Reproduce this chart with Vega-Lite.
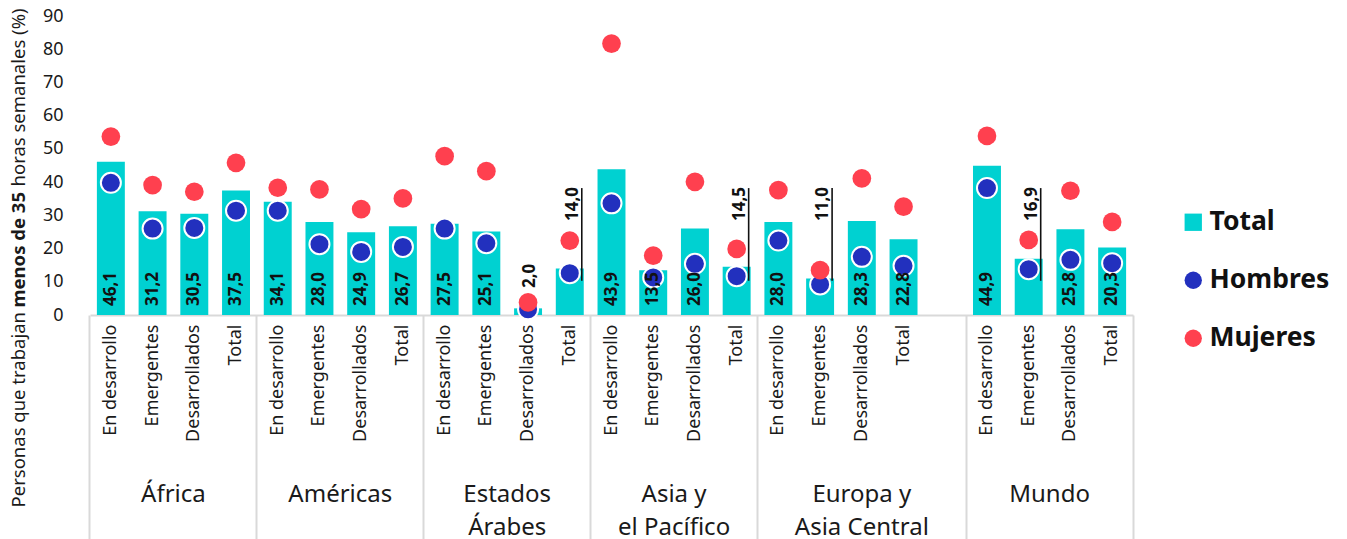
{
  "$schema": "https://vega.github.io/schema/vega-lite/v6.json",
  "width": 1043,
  "height": 299,
  "autosize": "none",
  "padding": {"left": 90, "top": 16, "right": 214, "bottom": 224},
  "config": {
    "view": {"stroke": null},
    "font": "Noto Sans",
    "locale": {"number": {"decimal": ",", "thousands": ".", "grouping": [3], "currency": ["", " €"]}},
    "axisY": {
      "titleFont": "Noto Sans", "titleFontSize": 18.5, "titleColor": "#1a1a1a",
      "titleAngle": 270, "titleAlign": "left", "titleBaseline": "alphabetic",
      "titleX": -66, "titlePadding": 0
    }
  },
  "data": {
    "values": [
      {"slot": "África|En desarrollo", "serie": "Total", "valor": 46.1},
      {"slot": "África|En desarrollo", "serie": "Hombres", "valor": 39.8},
      {"slot": "África|En desarrollo", "serie": "Mujeres", "valor": 53.7},
      {"slot": "África|Emergentes", "serie": "Total", "valor": 31.2},
      {"slot": "África|Emergentes", "serie": "Hombres", "valor": 26.0},
      {"slot": "África|Emergentes", "serie": "Mujeres", "valor": 39.1},
      {"slot": "África|Desarrollados", "serie": "Total", "valor": 30.5},
      {"slot": "África|Desarrollados", "serie": "Hombres", "valor": 26.2},
      {"slot": "África|Desarrollados", "serie": "Mujeres", "valor": 37.1},
      {"slot": "África|Total", "serie": "Total", "valor": 37.5},
      {"slot": "África|Total", "serie": "Hombres", "valor": 31.4},
      {"slot": "África|Total", "serie": "Mujeres", "valor": 45.8},
      {"slot": "Américas|En desarrollo", "serie": "Total", "valor": 34.1},
      {"slot": "Américas|En desarrollo", "serie": "Hombres", "valor": 31.4},
      {"slot": "Américas|En desarrollo", "serie": "Mujeres", "valor": 38.3},
      {"slot": "Américas|Emergentes", "serie": "Total", "valor": 28.0},
      {"slot": "Américas|Emergentes", "serie": "Hombres", "valor": 21.3},
      {"slot": "Américas|Emergentes", "serie": "Mujeres", "valor": 37.8},
      {"slot": "Américas|Desarrollados", "serie": "Total", "valor": 24.9},
      {"slot": "Américas|Desarrollados", "serie": "Hombres", "valor": 19.0},
      {"slot": "Américas|Desarrollados", "serie": "Mujeres", "valor": 31.9},
      {"slot": "Américas|Total", "serie": "Total", "valor": 26.7},
      {"slot": "Américas|Total", "serie": "Hombres", "valor": 20.5},
      {"slot": "Américas|Total", "serie": "Mujeres", "valor": 35.1},
      {"slot": "Estados Árabes|En desarrollo", "serie": "Total", "valor": 27.5},
      {"slot": "Estados Árabes|En desarrollo", "serie": "Hombres", "valor": 26.0},
      {"slot": "Estados Árabes|En desarrollo", "serie": "Mujeres", "valor": 47.8},
      {"slot": "Estados Árabes|Emergentes", "serie": "Total", "valor": 25.1},
      {"slot": "Estados Árabes|Emergentes", "serie": "Hombres", "valor": 21.6},
      {"slot": "Estados Árabes|Emergentes", "serie": "Mujeres", "valor": 43.3},
      {"slot": "Estados Árabes|Desarrollados", "serie": "Total", "valor": 2.0},
      {"slot": "Estados Árabes|Desarrollados", "serie": "Hombres", "valor": 1.7},
      {"slot": "Estados Árabes|Desarrollados", "serie": "Mujeres", "valor": 3.8},
      {"slot": "Estados Árabes|Total", "serie": "Total", "valor": 14.0},
      {"slot": "Estados Árabes|Total", "serie": "Hombres", "valor": 12.6},
      {"slot": "Estados Árabes|Total", "serie": "Mujeres", "valor": 22.4},
      {"slot": "Asia y el Pacífico|En desarrollo", "serie": "Total", "valor": 43.9},
      {"slot": "Asia y el Pacífico|En desarrollo", "serie": "Hombres", "valor": 33.6},
      {"slot": "Asia y el Pacífico|En desarrollo", "serie": "Mujeres", "valor": 81.7},
      {"slot": "Asia y el Pacífico|Emergentes", "serie": "Total", "valor": 13.5},
      {"slot": "Asia y el Pacífico|Emergentes", "serie": "Hombres", "valor": 11.3},
      {"slot": "Asia y el Pacífico|Emergentes", "serie": "Mujeres", "valor": 17.9},
      {"slot": "Asia y el Pacífico|Desarrollados", "serie": "Total", "valor": 26.0},
      {"slot": "Asia y el Pacífico|Desarrollados", "serie": "Hombres", "valor": 15.4},
      {"slot": "Asia y el Pacífico|Desarrollados", "serie": "Mujeres", "valor": 40.1},
      {"slot": "Asia y el Pacífico|Total", "serie": "Total", "valor": 14.5},
      {"slot": "Asia y el Pacífico|Total", "serie": "Hombres", "valor": 11.7},
      {"slot": "Asia y el Pacífico|Total", "serie": "Mujeres", "valor": 19.9},
      {"slot": "Europa y Asia Central|En desarrollo", "serie": "Total", "valor": 28.0},
      {"slot": "Europa y Asia Central|En desarrollo", "serie": "Hombres", "valor": 22.4},
      {"slot": "Europa y Asia Central|En desarrollo", "serie": "Mujeres", "valor": 37.6},
      {"slot": "Europa y Asia Central|Emergentes", "serie": "Total", "valor": 11.0},
      {"slot": "Europa y Asia Central|Emergentes", "serie": "Hombres", "valor": 9.2},
      {"slot": "Europa y Asia Central|Emergentes", "serie": "Mujeres", "valor": 13.5},
      {"slot": "Europa y Asia Central|Desarrollados", "serie": "Total", "valor": 28.3},
      {"slot": "Europa y Asia Central|Desarrollados", "serie": "Hombres", "valor": 17.5},
      {"slot": "Europa y Asia Central|Desarrollados", "serie": "Mujeres", "valor": 41.1},
      {"slot": "Europa y Asia Central|Total", "serie": "Total", "valor": 22.8},
      {"slot": "Europa y Asia Central|Total", "serie": "Hombres", "valor": 14.8},
      {"slot": "Europa y Asia Central|Total", "serie": "Mujeres", "valor": 32.6},
      {"slot": "Mundo|En desarrollo", "serie": "Total", "valor": 44.9},
      {"slot": "Mundo|En desarrollo", "serie": "Hombres", "valor": 38.2},
      {"slot": "Mundo|En desarrollo", "serie": "Mujeres", "valor": 53.9},
      {"slot": "Mundo|Emergentes", "serie": "Total", "valor": 16.9},
      {"slot": "Mundo|Emergentes", "serie": "Hombres", "valor": 13.8},
      {"slot": "Mundo|Emergentes", "serie": "Mujeres", "valor": 22.6},
      {"slot": "Mundo|Desarrollados", "serie": "Total", "valor": 25.8},
      {"slot": "Mundo|Desarrollados", "serie": "Hombres", "valor": 16.6},
      {"slot": "Mundo|Desarrollados", "serie": "Mujeres", "valor": 37.4},
      {"slot": "Mundo|Total", "serie": "Total", "valor": 20.3},
      {"slot": "Mundo|Total", "serie": "Hombres", "valor": 15.6},
      {"slot": "Mundo|Total", "serie": "Mujeres", "valor": 28.0}
    ]
  },
  "resolve": {"axis": {"x": "independent", "y": "independent"}},
  "layer": [
    {
      "transform": [{"filter": "datum.serie == 'Total'"}],
      "mark": {"type": "bar", "color": "#00D1D1"},
      "encoding": {
        "x": {
          "field": "slot", "type": "nominal",
          "scale": {"type": "band", "paddingInner": 0.33, "paddingOuter": 0.165,
            "domain": ["África|En desarrollo","África|Emergentes","África|Desarrollados","África|Total","Américas|En desarrollo","Américas|Emergentes","Américas|Desarrollados","Américas|Total","Estados Árabes|En desarrollo","Estados Árabes|Emergentes","Estados Árabes|Desarrollados","Estados Árabes|Total","Asia y el Pacífico|En desarrollo","Asia y el Pacífico|Emergentes","Asia y el Pacífico|Desarrollados","Asia y el Pacífico|Total","Europa y Asia Central|En desarrollo","Europa y Asia Central|Emergentes","Europa y Asia Central|Desarrollados","Europa y Asia Central|Total","Europa y Asia Central|","Mundo|En desarrollo","Mundo|Emergentes","Mundo|Desarrollados","Mundo|Total"]},
          "axis": {
            "orient": "bottom", "title": null, "ticks": false, "grid": false,
            "domain": true, "domainColor": "#D9D9D9", "domainWidth": 2,
            "labelExpr": "split(datum.value, '|')[1]",
            "labelAngle": 270, "labelAlign": "right", "labelBaseline": "middle",
            "labelPadding": 9, "labelFontSize": 18, "labelColor": "#1a1a1a",
            "labelFont": "Noto Sans", "labelOverlap": false, "labelBound": false
          }
        },
        "y": {
          "field": "valor", "type": "quantitative",
          "scale": {"domain": [0, 90], "nice": false},
          "axis": {
            "orient": "left", "title": null, "values": [0,10,20,30,40,50,60,70,80,90],
            "ticks": false, "domain": false, "grid": false,
            "labelPadding": 27, "labelFontSize": 18, "labelColor": "#1a1a1a", "labelFont": "Noto Sans"
          }
        },
        "color": {
          "field": "serie", "type": "nominal",
          "scale": {"domain": ["Total", "Hombres", "Mujeres"], "range": ["#00D1D1", "#2230BE", "#FF404F"]},
          "legend": {
            "title": null, "orient": "none", "legendX": 1090, "legendY": 193,
            "labelFontSize": 26.5, "labelFontWeight": "bold", "labelColor": "#111111", "labelFont": "Noto Sans",
            "symbolSize": 300, "symbolStrokeWidth": 0, "rowPadding": 31, "labelOffset": 3
          }
        }
      }
    },
    {
      "transform": [{"filter": "datum.serie == 'Hombres'"}],
      "mark": {"type": "point", "filled": true, "opacity": 1, "stroke": "white", "strokeWidth": 2, "size": 400},
      "encoding": {
        "x": {
          "field": "slot", "type": "nominal",
          "scale": {"type": "band", "paddingInner": 0.33, "paddingOuter": 0.165,
            "domain": ["África|En desarrollo","África|Emergentes","África|Desarrollados","África|Total","Américas|En desarrollo","Américas|Emergentes","Américas|Desarrollados","Américas|Total","Estados Árabes|En desarrollo","Estados Árabes|Emergentes","Estados Árabes|Desarrollados","Estados Árabes|Total","Asia y el Pacífico|En desarrollo","Asia y el Pacífico|Emergentes","Asia y el Pacífico|Desarrollados","Asia y el Pacífico|Total","Europa y Asia Central|En desarrollo","Europa y Asia Central|Emergentes","Europa y Asia Central|Desarrollados","Europa y Asia Central|Total","Europa y Asia Central|","Mundo|En desarrollo","Mundo|Emergentes","Mundo|Desarrollados","Mundo|Total"]},
          "axis": {
            "orient": "bottom", "title": null, "ticks": false, "grid": false, "domain": false,
            "labelExpr": "datum.value == 'África|Emergentes' ? 'África' : datum.value == 'Américas|Emergentes' ? 'Américas' : datum.value == 'Estados Árabes|Emergentes' ? ['Estados', 'Árabes'] : datum.value == 'Asia y el Pacífico|Emergentes' ? ['Asia y', 'el Pacífico'] : datum.value == 'Europa y Asia Central|Desarrollados' ? ['Europa y', 'Asia Central'] : datum.value == 'Mundo|Emergentes' ? 'Mundo' : ''",
            "labelAngle": 0, "labelAlign": "center", "labelBaseline": "top",
            "labelPadding": 167, "labelFontSize": 24, "labelLineHeight": 33,
            "labelColor": "#1a1a1a", "labelFont": "Noto Sans",
            "labelOffset": {"condition": {"test": "datum.value == 'Europa y Asia Central|Desarrollados'", "value": 0}, "value": 20.86},
            "labelOverlap": false, "labelBound": false, "labelFlush": false
          }
        },
        "y": {
          "field": "valor", "type": "quantitative",
          "scale": {"domain": [0, 90], "nice": false},
          "axis": {
            "orient": "left", "labels": false, "ticks": false, "domain": false, "grid": false,
            "title": "Personas que trabajan", "titleFontWeight": "normal", "titleY": 491
          }
        },
        "color": {
          "field": "serie", "type": "nominal",
          "scale": {"domain": ["Total", "Hombres", "Mujeres"], "range": ["#00D1D1", "#2230BE", "#FF404F"]}
        },
        "shape": {
          "field": "serie", "type": "nominal",
          "scale": {"domain": ["Total", "Hombres", "Mujeres"], "range": ["square", "circle", "circle"]},
          "legend": {
            "title": null, "orient": "none", "legendX": 1090, "legendY": 193,
            "labelFontSize": 26.5, "labelFontWeight": "bold", "labelColor": "#111111", "labelFont": "Noto Sans",
            "symbolSize": 300, "symbolStrokeWidth": 0, "rowPadding": 31, "labelOffset": 3
          }
        }
      }
    },
    {
      "transform": [{"filter": "datum.serie == 'Mujeres'"}],
      "mark": {"type": "point", "filled": true, "opacity": 1, "size": 350},
      "encoding": {
        "x": {
          "field": "slot", "type": "nominal",
          "scale": {"type": "band", "paddingInner": 0.33, "paddingOuter": 0.165,
            "domain": ["África|En desarrollo","África|Emergentes","África|Desarrollados","África|Total","Américas|En desarrollo","Américas|Emergentes","Américas|Desarrollados","Américas|Total","Estados Árabes|En desarrollo","Estados Árabes|Emergentes","Estados Árabes|Desarrollados","Estados Árabes|Total","Asia y el Pacífico|En desarrollo","Asia y el Pacífico|Emergentes","Asia y el Pacífico|Desarrollados","Asia y el Pacífico|Total","Europa y Asia Central|En desarrollo","Europa y Asia Central|Emergentes","Europa y Asia Central|Desarrollados","Europa y Asia Central|Total","Europa y Asia Central|","Mundo|En desarrollo","Mundo|Emergentes","Mundo|Desarrollados","Mundo|Total"]},
          "axis": {
            "orient": "bottom", "title": null, "labels": false, "domain": false, "grid": false,
            "ticks": true, "tickSize": 230, "tickColor": "#D9D9D9", "tickWidth": 2,
            "bandPosition": -0.2463,
            "tickOpacity": {"condition": {"test": "indexof(datum.value, 'En desarrollo') >= 0", "value": 1}, "value": 0}
          }
        },
        "y": {
          "field": "valor", "type": "quantitative",
          "scale": {"domain": [0, 90], "nice": false},
          "axis": {
            "orient": "left", "labels": false, "ticks": false, "domain": false, "grid": false,
            "title": "menos de 35", "titleFontWeight": "bold", "titleY": 291
          }
        },
        "color": {
          "field": "serie", "type": "nominal",
          "scale": {"domain": ["Total", "Hombres", "Mujeres"], "range": ["#00D1D1", "#2230BE", "#FF404F"]}
        },
        "shape": {
          "field": "serie", "type": "nominal",
          "scale": {"domain": ["Total", "Hombres", "Mujeres"], "range": ["square", "circle", "circle"]}
        }
      }
    },
    {
      "transform": [{"filter": "datum.serie == 'Total' && indexof(['Estados Árabes|Total', 'Asia y el Pacífico|Total', 'Europa y Asia Central|Emergentes', 'Mundo|Emergentes', 'Estados Árabes|Desarrollados'], datum.slot) < 0"}],
      "mark": {"type": "text", "angle": 270, "align": "left", "baseline": "middle", "font": "Noto Sans", "fontSize": 17, "fontWeight": "bold", "color": "#111111"},
      "encoding": {
        "x": {
          "field": "slot", "type": "nominal",
          "scale": {"type": "band", "paddingInner": 0.33, "paddingOuter": 0.165,
            "domain": ["África|En desarrollo","África|Emergentes","África|Desarrollados","África|Total","Américas|En desarrollo","Américas|Emergentes","Américas|Desarrollados","Américas|Total","Estados Árabes|En desarrollo","Estados Árabes|Emergentes","Estados Árabes|Desarrollados","Estados Árabes|Total","Asia y el Pacífico|En desarrollo","Asia y el Pacífico|Emergentes","Asia y el Pacífico|Desarrollados","Asia y el Pacífico|Total","Europa y Asia Central|En desarrollo","Europa y Asia Central|Emergentes","Europa y Asia Central|Desarrollados","Europa y Asia Central|Total","Europa y Asia Central|","Mundo|En desarrollo","Mundo|Emergentes","Mundo|Desarrollados","Mundo|Total"]},
          "axis": null
        },
        "y": {
          "datum": 2.7, "type": "quantitative",
          "scale": {"domain": [0, 90], "nice": false},
          "axis": {
            "orient": "left", "labels": false, "ticks": false, "domain": false, "grid": false,
            "title": "horas semanales (%)", "titleFontWeight": "normal", "titleY": 170
          }
        },
        "text": {"field": "valor", "type": "quantitative", "format": ".1f"}
      }
    },
    {
      "transform": [{"filter": "datum.serie == 'Total' && datum.slot == 'Estados Árabes|Desarrollados'"}],
      "mark": {"type": "text", "angle": 270, "align": "left", "baseline": "middle", "font": "Noto Sans", "fontSize": 17, "fontWeight": "bold", "color": "#111111", "xOffset": 2},
      "encoding": {
        "x": {
          "field": "slot", "type": "nominal",
          "scale": {"type": "band", "paddingInner": 0.33, "paddingOuter": 0.165,
            "domain": ["África|En desarrollo","África|Emergentes","África|Desarrollados","África|Total","Américas|En desarrollo","Américas|Emergentes","Américas|Desarrollados","Américas|Total","Estados Árabes|En desarrollo","Estados Árabes|Emergentes","Estados Árabes|Desarrollados","Estados Árabes|Total","Asia y el Pacífico|En desarrollo","Asia y el Pacífico|Emergentes","Asia y el Pacífico|Desarrollados","Asia y el Pacífico|Total","Europa y Asia Central|En desarrollo","Europa y Asia Central|Emergentes","Europa y Asia Central|Desarrollados","Europa y Asia Central|Total","Europa y Asia Central|","Mundo|En desarrollo","Mundo|Emergentes","Mundo|Desarrollados","Mundo|Total"]},
          "axis": null
        },
        "y": {"datum": 8.1, "type": "quantitative", "scale": {"domain": [0, 90], "nice": false}, "axis": null},
        "text": {"field": "valor", "type": "quantitative", "format": ".1f"}
      }
    },
    {
      "transform": [{"filter": "datum.serie == 'Total' && indexof(['Estados Árabes|Total', 'Asia y el Pacífico|Total', 'Europa y Asia Central|Emergentes', 'Mundo|Emergentes'], datum.slot) >= 0"}],
      "mark": {"type": "text", "angle": 270, "align": "left", "baseline": "middle", "font": "Noto Sans", "fontSize": 17, "fontWeight": "bold", "color": "#111111", "xOffset": 3},
      "encoding": {
        "x": {
          "field": "slot", "type": "nominal",
          "scale": {"type": "band", "paddingInner": 0.33, "paddingOuter": 0.165,
            "domain": ["África|En desarrollo","África|Emergentes","África|Desarrollados","África|Total","Américas|En desarrollo","Américas|Emergentes","Américas|Desarrollados","Américas|Total","Estados Árabes|En desarrollo","Estados Árabes|Emergentes","Estados Árabes|Desarrollados","Estados Árabes|Total","Asia y el Pacífico|En desarrollo","Asia y el Pacífico|Emergentes","Asia y el Pacífico|Desarrollados","Asia y el Pacífico|Total","Europa y Asia Central|En desarrollo","Europa y Asia Central|Emergentes","Europa y Asia Central|Desarrollados","Europa y Asia Central|Total","Europa y Asia Central|","Mundo|En desarrollo","Mundo|Emergentes","Mundo|Desarrollados","Mundo|Total"]},
          "axis": null
        },
        "y": {"datum": 28.3, "type": "quantitative", "scale": {"domain": [0, 90], "nice": false}, "axis": null},
        "text": {"field": "valor", "type": "quantitative", "format": ".1f"}
      }
    },
    {
      "transform": [{"filter": "datum.serie == 'Total' && indexof(['Estados Árabes|Total', 'Asia y el Pacífico|Total', 'Europa y Asia Central|Emergentes', 'Mundo|Emergentes'], datum.slot) >= 0"}],
      "mark": {"type": "rule", "color": "#111111", "strokeWidth": 1.6, "xOffset": 12},
      "encoding": {
        "x": {
          "field": "slot", "type": "nominal",
          "scale": {"type": "band", "paddingInner": 0.33, "paddingOuter": 0.165,
            "domain": ["África|En desarrollo","África|Emergentes","África|Desarrollados","África|Total","Américas|En desarrollo","Américas|Emergentes","Américas|Desarrollados","Américas|Total","Estados Árabes|En desarrollo","Estados Árabes|Emergentes","Estados Árabes|Desarrollados","Estados Árabes|Total","Asia y el Pacífico|En desarrollo","Asia y el Pacífico|Emergentes","Asia y el Pacífico|Desarrollados","Asia y el Pacífico|Total","Europa y Asia Central|En desarrollo","Europa y Asia Central|Emergentes","Europa y Asia Central|Desarrollados","Europa y Asia Central|Total","Europa y Asia Central|","Mundo|En desarrollo","Mundo|Emergentes","Mundo|Desarrollados","Mundo|Total"]},
          "axis": {
            "orient": "bottom", "title": null, "labels": false, "domain": false, "grid": false,
            "ticks": true, "tickSize": 230, "tickColor": "#D9D9D9", "tickWidth": 2,
            "bandPosition": 1.2463,
            "tickOpacity": {"condition": {"test": "datum.value == 'Mundo|Total'", "value": 1}, "value": 0}
          }
        },
        "y": {"datum": 10.3, "type": "quantitative", "scale": {"domain": [0, 90], "nice": false}, "axis": null},
        "y2": {"datum": 38.2}
      }
    }
  ]
}
